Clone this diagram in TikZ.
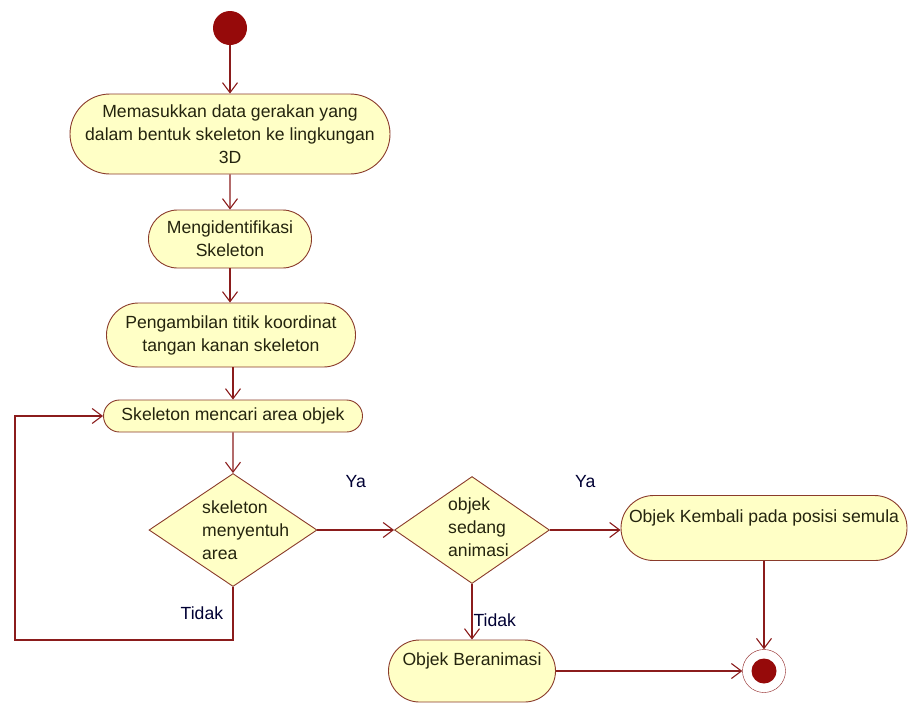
\documentclass[tikz,border=0pt]{standalone}
\usepackage{fontspec}
\setmainfont{Liberation Sans}
\usetikzlibrary{shapes.misc,shapes.geometric,arrows.meta,positioning}
\definecolor{actfill}{HTML}{FFFFC6}
\definecolor{actline}{HTML}{8A3B2B}
\definecolor{flowline}{HTML}{8B1C1C}
\definecolor{dotred}{HTML}{960A0A}
\definecolor{txt}{HTML}{24240E}
\begin{document}
\begin{tikzpicture}[x=1pt,y=-1pt,
  font=\fontsize{17.6}{23}\selectfont,
  act/.style={draw=actline, fill=actfill, rounded rectangle, align=center, text=txt, inner sep=2pt, line width=0.9pt},
  decision/.style={draw=actline, fill=actfill, diamond, inner sep=0pt, line width=0.9pt},
  dtext/.style={align=left, text=txt, anchor=west, inner sep=0pt},
  flow/.style={draw=flowline, line width=1.1pt, -{Straight Barb[length=10pt,width=15pt,line width=1.1pt]}},
  lbl/.style={text=black!80!blue}]
\useasboundingbox (0,0) rectangle (909,705);

\node[circle, fill=dotred, minimum size=34pt, inner sep=0pt] (start) at (230,28) {};
\node[act, minimum width=324pt, minimum height=80pt] (masuk) at (230,134)
  {Memasukkan data gerakan yang\\dalam bentuk skeleton ke lingkungan\\3D};
\node[act, minimum width=167pt, minimum height=58pt] (ident) at (230,239) {Mengidentifikasi\\Skeleton};
\node[act, minimum width=253pt, minimum height=64pt] (ambil) at (231,335) {Pengambilan titik koordinat\\tangan kanan skeleton};
\node[act, minimum width=263pt, minimum height=32pt] (cari) at (233,416) {Skeleton mencari area objek};

\node[decision, minimum width=168pt, minimum height=113pt] (sentuh) at (233,530) {};
\node[dtext] (sentuhtxt) at (202,530) {skeleton\\menyentuh\\area};
\node[decision, minimum width=155pt, minimum height=107pt] (anim) at (472,530) {};
\node[dtext] (animtxt) at (448,527) {objek\\sedang\\animasi};

\node[act, minimum width=290pt, minimum height=65pt] (kembali) at (764,528) {Objek Kembali pada posisi semula\\\mbox{}};
\node[act, minimum width=171pt, minimum height=62pt] (beranim) at (472,671) {Objek Beranimasi\\\mbox{}};

\node[circle, draw=flowline, fill=white, minimum size=43pt, inner sep=0pt] (akhir) at (764,671) {};
\node[circle, fill=dotred, minimum size=25pt, inner sep=0pt] (akhirdot) at (akhir) {};

\coordinate (loopbl) at (15,640);

% alur utama
\path[flow] (start) -- (masuk);
\path[flow] (masuk) -- (ident);
\path[flow] (ident.south) -- (ident.south |- ambil.north);
\path[flow] (ambil.south -| cari.north) -- (cari.north);
\path[flow] (cari) -- (sentuh);
\path[flow] (sentuh.east) -- node[lbl, above=38pt] (ya1) {Ya} (anim.west);
\path[flow] (anim.east) -- node[lbl, above=38pt] (ya2) {Ya} (anim.east -| kembali.west);
\path[flow] (anim.south) -- node[lbl, pos=0.65, right, inner sep=1pt] (tidak2) {Tidak} (beranim.north);
\path[flow] (kembali.south) -- (akhir.north);
\path[flow] (beranim.east) -- (akhir.west);

% kembali ke pencarian
\path[flow] (sentuh.south) -- node[lbl, left=6pt] (tidak1) {Tidak} (sentuh.south |- loopbl) -- (loopbl) |- (cari.west);
\end{tikzpicture}
\end{document}
